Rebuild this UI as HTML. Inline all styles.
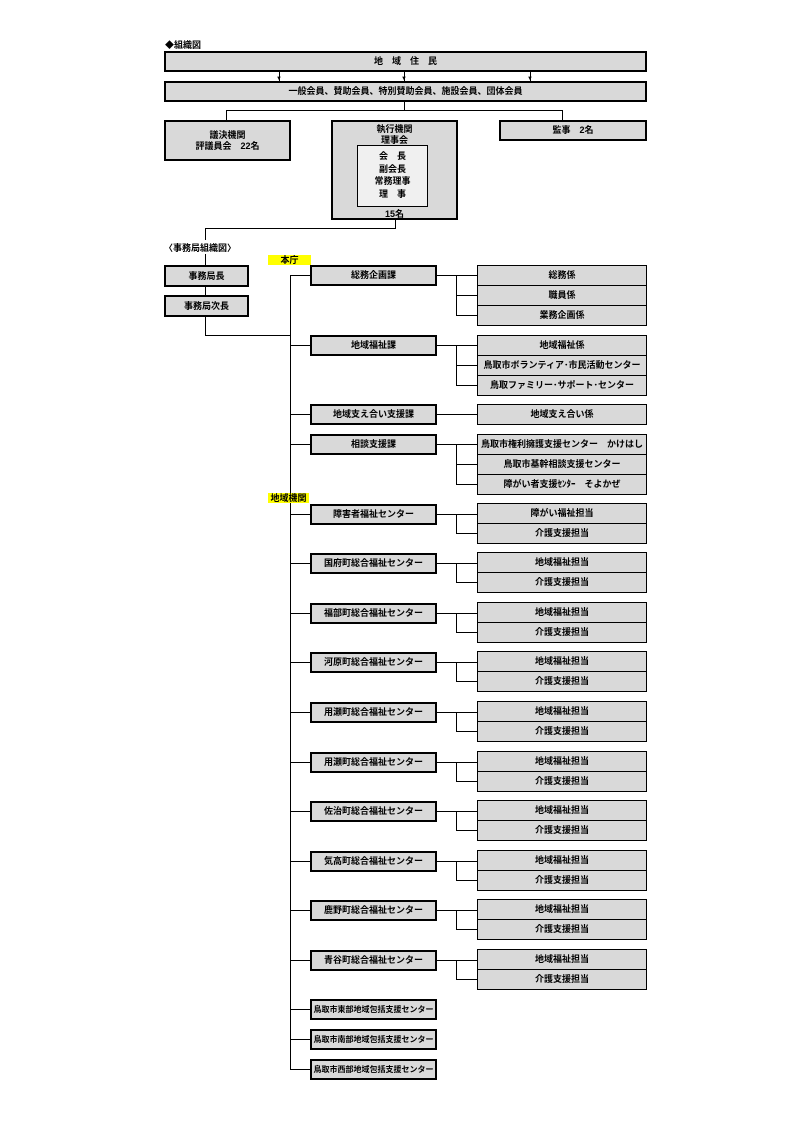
<!DOCTYPE html>
<html><head><meta charset="utf-8"><style>
body{margin:0;background:#fff;width:793px;height:1122px;position:relative;overflow:hidden;font-family:"Liberation Sans","Noto Sans CJK JP",sans-serif;font-weight:bold;font-size:9px;color:#000}
div{position:absolute;box-sizing:border-box}
.b{background:#d9d9d9;border:2px solid #000;text-align:center}
.m{left:310px;width:127px;height:21px;line-height:17px;background:#d9d9d9;border:2px solid #000;text-align:center}
.s{left:477px;width:170px;height:20px;line-height:19px;background:#d9d9d9;border-top:1px solid #000;border-left:1px solid #000;border-right:1px solid #000;text-align:center}
.sl{border-bottom:1px solid #000}
.h{height:1px;background:#000}
.v{width:1px;background:#000}
.y{background:#ffff00;text-align:center;line-height:10px}
</style></head><body>
<div style="left:165px;top:38px;">◆組織図</div>
<div class="b" style="left:164px;top:51px;width:483px;height:21px;line-height:17px;">地　域　住　民</div>
<div class="v" style="left:279px;top:72px;height:9px"></div>
<div class="v" style="left:404px;top:72px;height:9px"></div>
<div class="v" style="left:530px;top:72px;height:9px"></div>
<div style="left:276px;top:76px;font-size:6px;line-height:6px">▼</div>
<div style="left:401px;top:76px;font-size:6px;line-height:6px">▼</div>
<div style="left:527px;top:76px;font-size:6px;line-height:6px">▼</div>
<div class="b" style="left:164px;top:81px;width:483px;height:21px;line-height:17px;">一般会員、賛助会員、特別賛助会員、施設会員、団体会員</div>
<div class="v" style="left:404px;top:102px;height:8px"></div>
<div class="h" style="left:226px;top:110px;width:337px"></div>
<div class="v" style="left:226px;top:110px;height:10px"></div>
<div class="v" style="left:562px;top:110px;height:10px"></div>
<div class="b" style="left:164px;top:120px;width:127px;height:41px;padding-top:8px;line-height:11px">議決機関<br>評議員会　22名</div>
<div class="b" style="left:331px;top:120px;width:127px;height:100px;padding-top:2px;line-height:11px">執行機関<br>理事会</div>
<div style="left:357px;top:145px;width:71px;height:62px;border:1px solid #000;background:#f0f0f0;text-align:center;line-height:12.5px;padding-top:4px">会　長<br>副会長<br>常務理事<br>理　事</div>
<div style="left:331px;top:207px;width:127px;text-align:center">15名</div>
<div class="b" style="left:499px;top:120px;width:148px;height:21px;line-height:17px">監事　2名</div>
<div class="v" style="left:395px;top:220px;height:8px"></div>
<div class="h" style="left:205px;top:228px;width:191px"></div>
<div class="v" style="left:205px;top:228px;height:12px"></div>
<div style="left:164px;top:241px;background:#fff">〈事務局組織図〉</div>
<div class="v" style="left:205px;top:254px;height:81px"></div>
<div class="b" style="left:164px;top:265px;width:85px;height:22px;line-height:18px">事務局長</div>
<div class="b" style="left:164px;top:295px;width:85px;height:22px;line-height:18px">事務局次長</div>
<div class="h" style="left:205px;top:335px;width:86px"></div>
<div class="v" style="left:290px;top:275px;height:795px"></div>
<div class="y" style="left:268px;top:255px;width:43px;height:10px">本庁</div>
<div class="y" style="left:268px;top:493px;width:41px;height:10px">地域機関</div>

<!-- 総務企画課 -->
<div class="h" style="left:290px;top:275px;width:20px"></div>
<div class="m" style="top:265px">総務企画課</div>
<div class="h" style="left:437px;top:275px;width:19px"></div>
<div class="v" style="left:456px;top:275px;height:41px"></div>
<div class="h" style="left:456px;top:275px;width:21px"></div>
<div class="h" style="left:456px;top:295px;width:21px"></div>
<div class="h" style="left:456px;top:315px;width:21px"></div>
<div class="s" style="top:265px">総務係</div>
<div class="s" style="top:285px">職員係</div>
<div class="s sl" style="top:305px;height:21px">業務企画係</div>

<!-- 地域福祉課 -->
<div class="h" style="left:290px;top:345px;width:20px"></div>
<div class="m" style="top:335px">地域福祉課</div>
<div class="h" style="left:437px;top:345px;width:19px"></div>
<div class="v" style="left:456px;top:345px;height:41px"></div>
<div class="h" style="left:456px;top:345px;width:21px"></div>
<div class="h" style="left:456px;top:365px;width:21px"></div>
<div class="h" style="left:456px;top:385px;width:21px"></div>
<div class="s" style="top:335px">地域福祉係</div>
<div class="s" style="top:355px">鳥取市ボランティア･市民活動センター</div>
<div class="s sl" style="top:375px;height:21px">鳥取ファミリー･サポート･センター</div>

<!-- 支え合い -->
<div class="h" style="left:290px;top:414px;width:20px"></div>
<div class="m" style="top:404px">地域支え合い支援課</div>
<div class="h" style="left:437px;top:414px;width:40px"></div>
<div class="s sl" style="top:404px;height:21px">地域支え合い係</div>

<!-- 相談支援課 -->
<div class="h" style="left:290px;top:444px;width:20px"></div>
<div class="m" style="top:434px">相談支援課</div>
<div class="h" style="left:437px;top:444px;width:19px"></div>
<div class="v" style="left:456px;top:444px;height:41px"></div>
<div class="h" style="left:456px;top:444px;width:21px"></div>
<div class="h" style="left:456px;top:464px;width:21px"></div>
<div class="h" style="left:456px;top:484px;width:21px"></div>
<div class="s" style="top:434px">鳥取市権利擁護支援センター　かけはし</div>
<div class="s" style="top:454px">鳥取市基幹相談支援センター</div>
<div class="s sl" style="top:474px;height:21px">障がい者支援ｾﾝﾀｰ　そよかぜ</div>

<!-- centers -->
<div class="h" style="left:290px;top:514px;width:20px"></div><div class="m" style="top:504px">障害者福祉センター</div><div class="h" style="left:437px;top:514px;width:40px"></div><div class="v" style="left:456px;top:514px;height:20px"></div><div class="h" style="left:456px;top:533px;width:21px"></div><div class="s" style="top:503px">障がい福祉担当</div><div class="s sl" style="top:523px;height:21px">介護支援担当</div>

<div class="h" style="left:290px;top:563px;width:20px"></div><div class="m" style="top:553px">国府町総合福祉センター</div><div class="h" style="left:437px;top:563px;width:40px"></div><div class="v" style="left:456px;top:563px;height:20px"></div><div class="h" style="left:456px;top:582px;width:21px"></div><div class="s" style="top:552px">地域福祉担当</div><div class="s sl" style="top:572px;height:21px">介護支援担当</div>

<div class="h" style="left:290px;top:613px;width:20px"></div><div class="m" style="top:603px">福部町総合福祉センター</div><div class="h" style="left:437px;top:613px;width:40px"></div><div class="v" style="left:456px;top:613px;height:20px"></div><div class="h" style="left:456px;top:632px;width:21px"></div><div class="s" style="top:602px">地域福祉担当</div><div class="s sl" style="top:622px;height:21px">介護支援担当</div>

<div class="h" style="left:290px;top:662px;width:20px"></div><div class="m" style="top:652px">河原町総合福祉センター</div><div class="h" style="left:437px;top:662px;width:40px"></div><div class="v" style="left:456px;top:662px;height:20px"></div><div class="h" style="left:456px;top:681px;width:21px"></div><div class="s" style="top:651px">地域福祉担当</div><div class="s sl" style="top:671px;height:21px">介護支援担当</div>

<div class="h" style="left:290px;top:712px;width:20px"></div><div class="m" style="top:702px">用瀬町総合福祉センター</div><div class="h" style="left:437px;top:712px;width:40px"></div><div class="v" style="left:456px;top:712px;height:20px"></div><div class="h" style="left:456px;top:731px;width:21px"></div><div class="s" style="top:701px">地域福祉担当</div><div class="s sl" style="top:721px;height:21px">介護支援担当</div>

<div class="h" style="left:290px;top:762px;width:20px"></div><div class="m" style="top:752px">用瀬町総合福祉センター</div><div class="h" style="left:437px;top:762px;width:40px"></div><div class="v" style="left:456px;top:762px;height:20px"></div><div class="h" style="left:456px;top:781px;width:21px"></div><div class="s" style="top:751px">地域福祉担当</div><div class="s sl" style="top:771px;height:21px">介護支援担当</div>

<div class="h" style="left:290px;top:811px;width:20px"></div><div class="m" style="top:801px">佐治町総合福祉センター</div><div class="h" style="left:437px;top:811px;width:40px"></div><div class="v" style="left:456px;top:811px;height:20px"></div><div class="h" style="left:456px;top:830px;width:21px"></div><div class="s" style="top:800px">地域福祉担当</div><div class="s sl" style="top:820px;height:21px">介護支援担当</div>

<div class="h" style="left:290px;top:861px;width:20px"></div><div class="m" style="top:851px">気高町総合福祉センター</div><div class="h" style="left:437px;top:861px;width:40px"></div><div class="v" style="left:456px;top:861px;height:20px"></div><div class="h" style="left:456px;top:880px;width:21px"></div><div class="s" style="top:850px">地域福祉担当</div><div class="s sl" style="top:870px;height:21px">介護支援担当</div>

<div class="h" style="left:290px;top:910px;width:20px"></div><div class="m" style="top:900px">鹿野町総合福祉センター</div><div class="h" style="left:437px;top:910px;width:40px"></div><div class="v" style="left:456px;top:910px;height:20px"></div><div class="h" style="left:456px;top:929px;width:21px"></div><div class="s" style="top:899px">地域福祉担当</div><div class="s sl" style="top:919px;height:21px">介護支援担当</div>

<div class="h" style="left:290px;top:960px;width:20px"></div><div class="m" style="top:950px">青谷町総合福祉センター</div><div class="h" style="left:437px;top:960px;width:40px"></div><div class="v" style="left:456px;top:960px;height:20px"></div><div class="h" style="left:456px;top:979px;width:21px"></div><div class="s" style="top:949px">地域福祉担当</div><div class="s sl" style="top:969px;height:21px">介護支援担当</div>

<div class="h" style="left:290px;top:1009px;width:20px"></div><div class="m" style="top:999px;font-size:8px">鳥取市東部地域包括支援センター</div>
<div class="h" style="left:290px;top:1039px;width:20px"></div><div class="m" style="top:1029px;font-size:8px">鳥取市南部地域包括支援センター</div>
<div class="h" style="left:290px;top:1069px;width:20px"></div><div class="m" style="top:1059px;font-size:8px">鳥取市西部地域包括支援センター</div>
</body></html>
